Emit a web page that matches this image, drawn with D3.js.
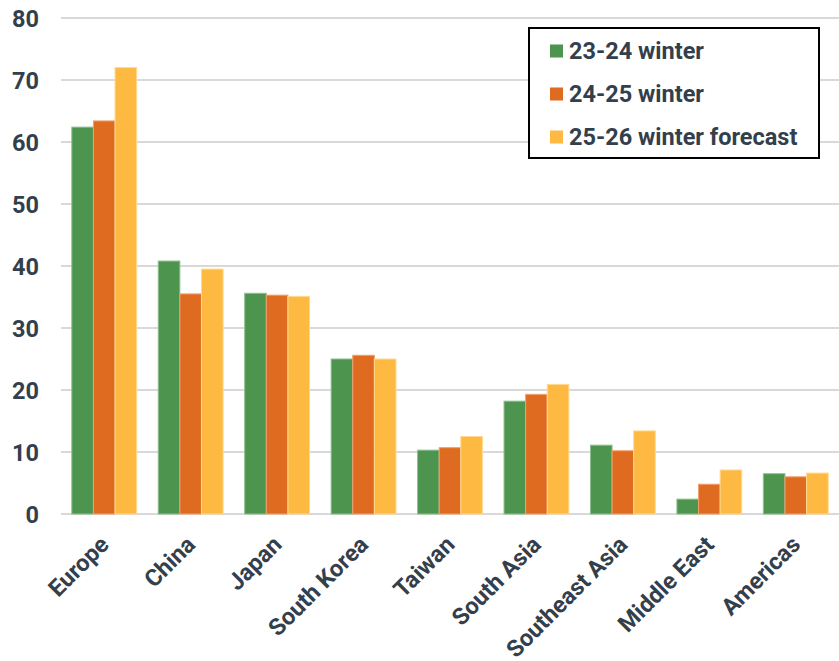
<!DOCTYPE html>
<html><head><meta charset="utf-8">
<script src="https://cdn.jsdelivr.net/npm/d3@7"></script>
<style>
body{margin:0;background:#fff;}
text{font-family:Roboto,"Liberation Sans",sans-serif;font-weight:bold;fill:#333f4c;}
</style></head><body>
<svg id="c" width="839" height="661"></svg>
<script>
const categories = ["Europe","China","Japan","South Korea","Taiwan","South Asia","Southeast Asia","Middle East","Americas"];
const seriesNames = ["23-24 winter","24-25 winter","25-26 winter forecast"];
const s2324 = [62.4,40.8,35.6,25.0,10.3,18.2,11.1,2.4,6.5];
const s2425 = [63.4,35.5,35.3,25.6,10.7,19.3,10.2,4.8,6.0];
const s2526 = [72.0,39.5,35.1,25.0,12.5,20.9,13.4,7.1,6.6];
const yTicks = [0,10,20,30,40,50,60,70,80];
const colors = ["#4d944e","#df6b20","#fdb942"];
const strokes = ["#8cc08d","#f0a070","#ffd98f"];

(function(){
const series = [s2324,s2425,s2526];
const svg = d3.select("#c");
const mLeft = 61, mRight = 839, mTop = 18, mBottom = 514;
const x = d3.scaleBand().domain(categories).range([mLeft,mRight]).paddingInner(0.25).paddingOuter(0.125);
const xs = d3.scaleBand().domain(d3.range(3)).range([0,x.bandwidth()]);
const y = d3.scaleLinear().domain([0,80]).range([mBottom,mTop]);

svg.append("g").selectAll("line").data(yTicks).join("line")
  .attr("x1",mLeft).attr("x2",mRight).attr("y1",d=>y(d)).attr("y2",d=>y(d))
  .attr("stroke","#d9d9d9").attr("stroke-width",2);

const yAxis = d3.axisLeft(y).tickValues(yTicks).tickSize(0).tickPadding(0);
const ya = svg.append("g").attr("transform","translate(39,0)").call(yAxis);
ya.select(".domain").remove();
ya.selectAll("text").style("font-size","23.5px").attr("fill","#333f4c").attr("dy","0.36em");

series.forEach((s,i)=>{
  svg.append("g").selectAll("rect").data(s).join("rect")
    .attr("x",(d,j)=>x(categories[j])+xs(i))
    .attr("y",d=>y(d))
    .attr("width",xs.bandwidth())
    .attr("height",d=>mBottom-y(d))
    .attr("fill",colors[i])
    .attr("stroke",strokes[i]).attr("stroke-width",1);
});

const xAxis = d3.axisBottom(x).tickSize(0).tickPadding(0);
const xa = svg.append("g").attr("transform",`translate(0,${mBottom})`).call(xAxis);
xa.select(".domain").remove();
xa.selectAll("text")
  .style("font-size","23.5px")
  .attr("fill","#333f4c")
  .attr("text-anchor","end")
  .attr("dy",0).attr("y",0)
  .attr("transform","translate(6,32) rotate(-45)");

const lg = svg.append("g");
lg.append("rect").attr("x",529).attr("y",28).attr("width",290).attr("height",130)
  .attr("fill","#fff").attr("stroke","#000").attr("stroke-width",2);
seriesNames.forEach((n,i)=>{
  const cy = 51 + i*43;
  lg.append("rect").attr("x",550).attr("y",cy-6.5).attr("width",13).attr("height",13).attr("fill",colors[i]);
  lg.append("text").attr("x",569).attr("y",cy).attr("dy","0.36em").style("font-size","23.5px").text(n);
});
})();
</script></body></html>
